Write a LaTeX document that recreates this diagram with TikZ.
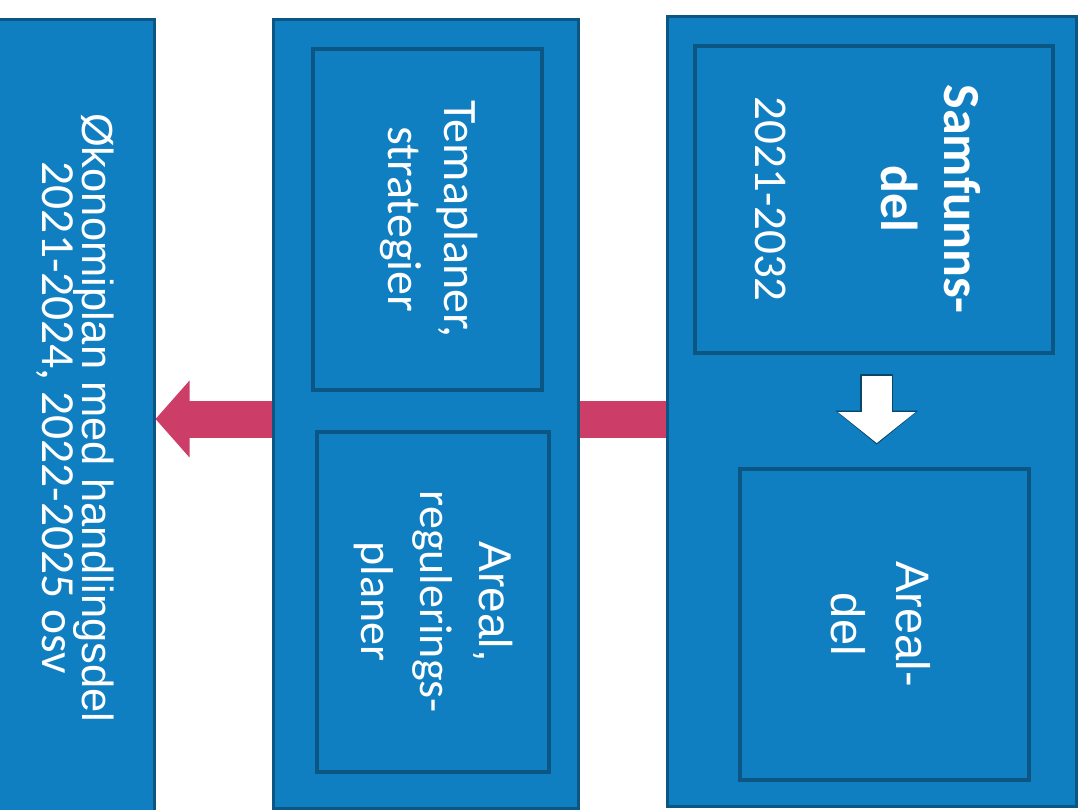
\documentclass[tikz,border=0pt]{standalone}
\usepackage{fontspec}
\setmainfont{Carlito}
\newfontfamily\arialf{Liberation Sans}
\usetikzlibrary{arrows.meta}
\definecolor{boxblue}{RGB}{16,127,194}
\definecolor{boxedge}{RGB}{12,86,132}
\definecolor{linkpink}{RGB}{204,62,104}
\newcommand{\shiftdown}[2]{\raisebox{#1}[\height][\depth]{#2}}
\begin{document}
\begin{tikzpicture}[x=1pt,y=-1pt,
  outerbox/.style={draw=boxedge, line width=2.5pt, fill=boxblue, inner sep=0pt, anchor=north west, text=white},
  innerbox/.style={draw=boxedge, line width=3.5pt, fill=boxblue, inner sep=0pt, anchor=north west, text=white},
  pinklink/.style={line width=37pt, linkpink, -{Triangle[width=75pt,length=34pt]}},
  whitelink/.style={line width=30pt, white, -{Triangle[width=76pt,length=31pt]}},
  whiteedge/.style={line width=33pt, boxedge!80!black, -{Triangle[width=81pt,length=34pt]}}
]
\fill[white] (0,0) rectangle (1089,809);
\useasboundingbox (0,0) rectangle (1089,809);

% left box
\node[outerbox, minimum width=158pt, minimum height=797pt] (L) at (-5,18)
  {\rotatebox{-90}{\begin{tabular}{@{}c@{}}
   {\arialf\fontsize{43.5}{58}\selectfont Økonomiplan med handlingsdel}\\
   {\fontsize{47.5}{58}\selectfont 2021-2024, 2022-2025 osv}
   \end{tabular}}};

% right box
\node[outerbox, minimum width=409pt, minimum height=790pt] (R) at (666,15) {};
\node[innerbox, minimum width=358pt, minimum height=307pt] (S) at (693,44)
  {\rotatebox{-90}{\shiftdown{-11pt}{\fontsize{52}{63}\selectfont\begin{tabular}{@{}c@{}}
   \textbf{Samfunns-}\\ \textbf{del}\\[63pt]
   {\fontsize{47}{63}\selectfont 2021-2032}
   \end{tabular}}}};
\node[innerbox, minimum width=289pt, minimum height=311pt] (AD) at (738,467)
  {\rotatebox{-90}{\shiftdown{-7pt}{\arialf\fontsize{47}{65}\selectfont\begin{tabular}{@{}c@{}}
   Areal-\\ del
   \end{tabular}}}};

% white arrow inside right box
\draw[whiteedge, shorten >=22.5pt] ([xshift=3pt,yshift=-19.5pt]S.south) -- ([xshift=3pt]S.south |- AD.north);
\draw[whitelink, shorten >=24pt] ([xshift=3pt,yshift=-21pt]S.south) -- ([xshift=3pt]S.south |- AD.north);

% pink arrow towards left box
\draw[pinklink] (R.west |- 0,419) -- (L.east |- 0,419);

% middle box
\node[outerbox, minimum width=305pt, minimum height=789pt] (M) at (272,18) {};
\node[innerbox, minimum width=229pt, minimum height=341pt] (T) at (311,47)
  {\rotatebox{-90}{\fontsize{48}{56}\selectfont\begin{tabular}{@{}c@{}}
   Temaplaner,\\ strategier
   \end{tabular}}};
\node[innerbox, minimum width=232pt, minimum height=340pt] (A) at (315,430)
  {\rotatebox{-90}{\fontsize{46}{59}\selectfont\begin{tabular}{@{}c@{}}
   {\arialf Areal,}\\ regulerings-\\ planer
   \end{tabular}}};
\end{tikzpicture}
\end{document}
